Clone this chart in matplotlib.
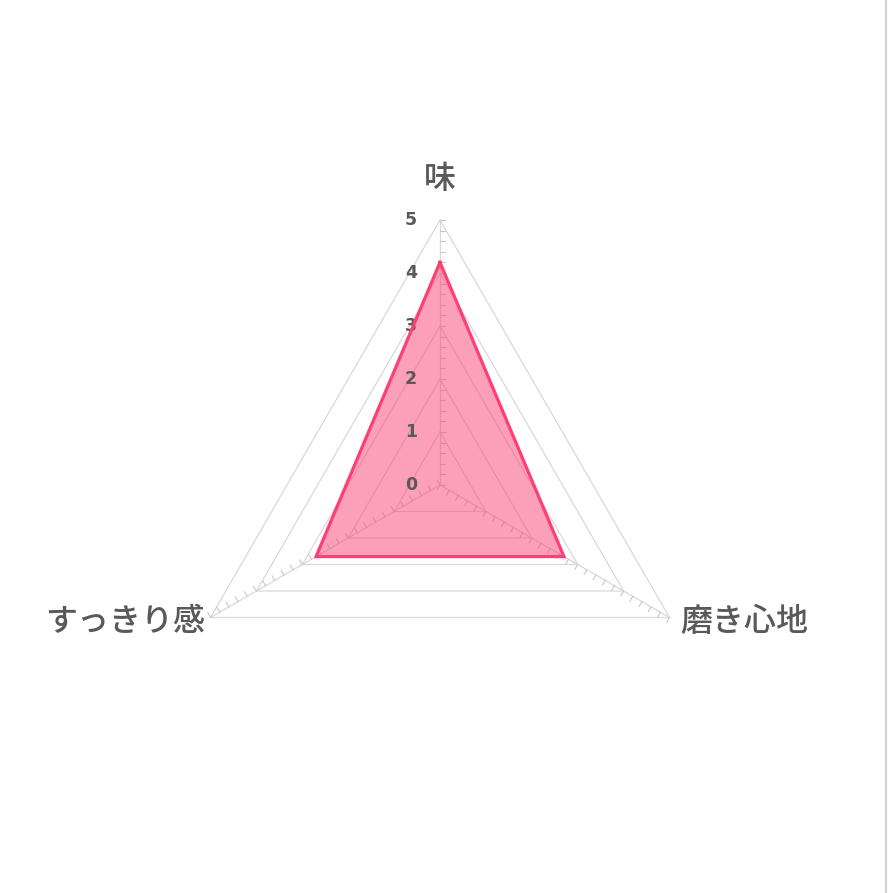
import numpy as np
import matplotlib
matplotlib.use("Agg")
import matplotlib.pyplot as plt
from matplotlib.lines import Line2D

plt.rcParams['font.family'] = ['Noto Sans CJK JP', 'DejaVu Sans']

# data
categories = ['味', '磨き心地', 'すっきり感']
values = [4.2, 2.7, 2.7]
ring_levels = [0, 1, 2, 3, 4, 5]
r_max = 5

# styles
grid_color = '#d9d9d9'
text_color = '#595959'
line_color = '#ff3f74'
fill_color = '#fa4274'

# angles: top, lower right, lower left
angles = np.radians([90, -30, 210])

def to_xy(r, a):
    return r * np.cos(a), r * np.sin(a)

fig = plt.figure(figsize=(8.92, 8.93), dpi=100)
ax = fig.add_axes([0, 0, 1, 1])
unit = 53.0
cx, cy = 440, 485
ax.set_xlim(-cx / unit, (892 - cx) / unit)
ax.set_ylim(-(893 - cy) / unit, cy / unit)
ax.axis('off')

# triangular rings
for lv in ring_levels[1:]:
    xs, ys = to_xy(lv, np.append(angles, angles[0]))
    ax.plot(xs, ys, color=grid_color, lw=0.9, zorder=1)

# spokes with small tick marks
tick_len = 0.1
for a in angles:
    xs, ys = to_xy(np.array([0, r_max]), a)
    ax.plot(xs, ys, color=grid_color, lw=0.9, zorder=1)
    d = np.array([np.cos(a), np.sin(a)])
    n = np.array([d[1], -d[0]])
    for t in np.arange(0, r_max + 0.01, 0.2):
        p = t * d
        q = p + tick_len * n
        ax.plot([p[0], q[0]], [p[1], q[1]], color='#c8c8c8', lw=0.8, zorder=1)

# value labels on the vertical axis
for lv in ring_levels:
    ax.text(-0.43, lv, str(lv), ha='right', va='center', fontsize=12.5,
            fontweight='bold', color=text_color, family=['DejaVu Sans'])

# data polygon
vx, vy = to_xy(np.array(values), angles)
ax.fill(vx, vy, color=fill_color, alpha=0.5, lw=0, zorder=2)
ax.plot(np.append(vx, vx[0]), np.append(vy, vy[0]), color=line_color, lw=2.3,
        solid_joinstyle='miter', zorder=3)

# category labels
lab_kw = dict(fontsize=23, color=text_color, fontweight='medium')
ax.text(0, r_max + 0.77, categories[0], ha='center', va='center', **lab_kw)
px, py = to_xy(r_max, angles[1])
ax.text(px + 0.2, py - 0.08, categories[1], ha='left', va='center', **lab_kw)
px, py = to_xy(r_max, angles[2])
ax.text(px - 0.1, py - 0.08, categories[2], ha='right', va='center', **lab_kw)

# right border line
fig.add_artist(Line2D([885.5 / 892, 885.5 / 892], [0, 1], transform=fig.transFigure,
                      color='#d0d0d0', lw=1.5))

fig.savefig('out.png', dpi=100)
